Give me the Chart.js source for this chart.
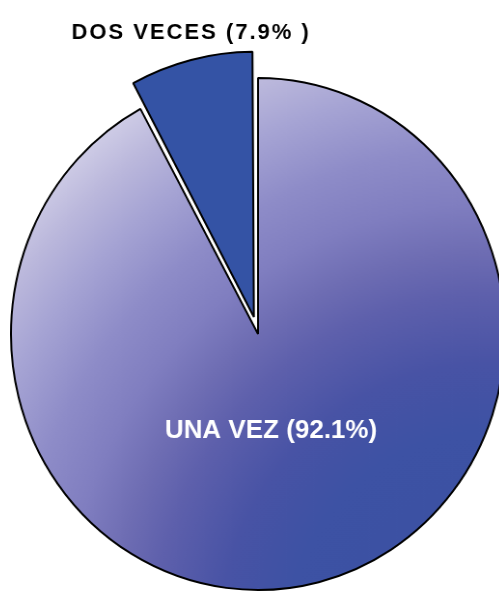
<!DOCTYPE html>
<html>
<head>
<meta charset="utf-8">
<script src="https://cdn.jsdelivr.net/npm/chart.js@4.4.0/dist/chart.umd.min.js"></script>
<style>
  html, body { margin: 0; padding: 0; background: #ffffff; overflow: hidden; }
  #clip { position: relative; width: 499px; height: 592px; overflow: hidden; }
  #wrap { position: absolute; left: 0; top: 0; width: 524px; height: 592px; }
  #c { transform: scaleX(0.965); transform-origin: 258px 0; }
</style>
</head>
<body>
<div id="clip"><div id="wrap"><canvas id="c"></canvas></div></div>
<script>
// ---- data ----
const categories = ['UNA VEZ', 'DOS VECES'];
const percentages = [92.1, 7.9];
const labelTexts = ['UNA VEZ (92.1%)', 'DOS VECES (7.9% )'];

const SX = 0.965; // horizontal squash applied to the canvas (ellipse look)

function mainGradient(context) {
  const chart = context.chart;
  const a = chart.chartArea;
  if (!a) return '#6a6ab2';
  const cx = (a.left + a.right) / 2, cy = (a.top + a.bottom) / 2;
  const gx = cx + 240, gy = cy + 310;
  const g = chart.ctx.createRadialGradient(gx, gy, 0, gx, gy, 700);
  g.addColorStop(0.00, '#3a50a2');
  g.addColorStop(0.30, '#3d52a4');
  g.addColorStop(0.40, '#4853a5');
  g.addColorStop(0.50, '#5e60ac');
  g.addColorStop(0.56, '#6e6db3');
  g.addColorStop(0.63, '#807ec0');
  g.addColorStop(0.71, '#8e8cc8');
  g.addColorStop(0.80, '#a6a4d4');
  g.addColorStop(0.87, '#bbb8dc');
  g.addColorStop(0.95, '#d6d4ea');
  g.addColorStop(1.00, '#dedcf0');
  return g;
}

const labelPlugin = {
  id: 'sliceLabels',
  afterDatasetsDraw(chart) {
    const meta = chart.getDatasetMeta(0);
    const ctx = chart.ctx;
    meta.data.forEach((arc, i) => {
      const mid = (arc.startAngle + arc.endAngle) / 2;
      const cos = Math.cos(mid), sin = Math.sin(mid);
      let x, y, font, color, spacing;
      if (i === 0) {
        const d = arc.outerRadius * 0.39;
        x = arc.x + cos * d * 0.55;
        y = arc.y + sin * d;
        font = 'bold 26px "Liberation Sans", Arial, sans-serif';
        color = '#ffffff';
        spacing = '0px';
      } else {
        const shift = (arc.options.offset || 0) / 4;
        const r = arc.outerRadius + shift * 0.5;
        x = arc.x + cos * (shift + r);
        y = arc.y + sin * (shift + r) - 27;
        font = 'bold 22px "Liberation Sans", Arial, sans-serif';
        color = '#000000';
        spacing = '2px';
      }
      ctx.save();
      ctx.translate(x, y);
      ctx.scale(1 / SX, 1);
      ctx.font = font;
      ctx.fillStyle = color;
      ctx.letterSpacing = spacing;
      ctx.textAlign = 'center';
      ctx.textBaseline = 'middle';
      ctx.fillText(labelTexts[i], 0, 0);
      ctx.restore();
    });
  }
};

new Chart(document.getElementById('c'), {
  type: 'pie',
  data: {
    labels: categories,
    datasets: [{
      data: percentages,
      backgroundColor: (ctx) => ctx.dataIndex === 0 ? mainGradient(ctx) : '#3453a5',
      borderColor: '#000000',
      borderWidth: 2,
      offset: (ctx) => ctx.dataIndex === 1 ? 70 : 0,
      hoverOffset: 0
    }]
  },
  options: {
    responsive: true,
    maintainAspectRatio: false,
    animation: false,
    radius: 256,
    layout: { padding: { left: 0, right: 8, top: 76, bottom: 0 } },
    plugins: {
      legend: { display: false },
      tooltip: { enabled: false }
    },
    events: []
  },
  plugins: [labelPlugin]
});
</script>
</body>
</html>
